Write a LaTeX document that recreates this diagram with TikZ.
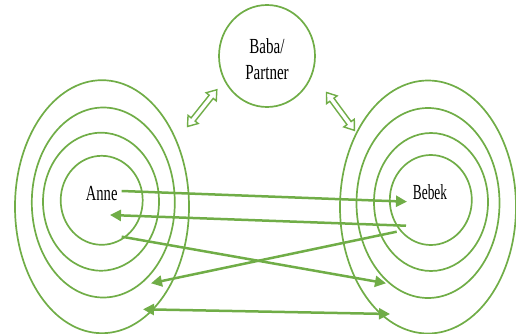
\documentclass[tikz,border=0pt]{standalone}
\usepackage{fontspec}
\setmainfont{Liberation Serif}
\usetikzlibrary{arrows.meta,shapes.geometric}
\definecolor{grn}{HTML}{70AD47}
\begin{document}
\begin{tikzpicture}[x=1pt,y=-1pt,
  ring/.style={draw=grn, line width=1.7pt, ellipse, inner sep=0pt},
  arr/.style={draw=grn, line width=2.5pt, -{Triangle[length=11pt,width=11pt]}},
  arrb/.style={draw=grn, line width=2.5pt, {Triangle[length=11pt,width=11pt]}-{Triangle[length=11pt,width=11pt]}},
  dbl/.style={draw=grn, line width=1.4pt, line join=miter, fill=white},
  lbl/.style={font=\fontsize{21.5}{26}\selectfont, inner sep=0pt}]
\useasboundingbox (0,0) rectangle (516,334);
% left rings
\node[ring, minimum width=82pt, minimum height=89pt] (L1) at (101.7,200.3) {};
\node[ring, minimum width=116pt, minimum height=138pt] (L2) at (101,201.7) {};
\node[ring, minimum width=143pt, minimum height=190pt] (L3) at (103.3,202.5) {};
\node[ring, minimum width=174pt, minimum height=253pt] (L4) at (102,206.7) {};
% right rings
\node[ring, minimum width=82pt, minimum height=90pt] (R1) at (430.8,200) {};
\node[ring, minimum width=114pt, minimum height=138pt] (R2) at (431,202) {};
\node[ring, minimum width=143pt, minimum height=190pt] (R3) at (428,203) {};
\node[ring, minimum width=176pt, minimum height=253pt] (R4) at (428,207) {};
% top circle
\node[ring, minimum width=96pt, minimum height=102pt] (P) at (267,56) {};
\node[lbl, align=center] (PT) at (267,59) {\scalebox{0.7}[1]{Baba/}\\\scalebox{0.7}[1]{Partner}};
\node[lbl] (A) at (101.7,193.5) {\scalebox{0.68}[1]{Anne}};
\node[lbl] (B) at (430,192.5) {\scalebox{0.62}[1]{Bebek}};
% arrow end points
\coordinate (a1) at (121.7,191);
\coordinate (b1) at (407,201.7);
\coordinate (b2) at (406,225.7);
\coordinate (a2) at (110,215);
\coordinate (a3) at (121.7,236.7);
\coordinate (b3) at (386,283.3);
\coordinate (b4) at (396.7,231.7);
\coordinate (a4) at (151,283.3);
\coordinate (a5) at (143,309.3);
\coordinate (b5) at (390,314);
\coordinate (d1) at (187.5,126.5);
\coordinate (d3) at (326.5,92.5);
\draw[arr] (a1) -- (b1);
\draw[arr] (b2) -- (a2);
\draw[arr] (a3) -- (b3);
\draw[arr] (b4) -- (a4);
\draw[arrb] (a5) -- (b5);
% hollow double arrows
\draw[dbl, shift={(d1)}, rotate=51.4, x=1pt, y=1pt]
  (0,0) -- (9,6.5) -- (9,2.6) -- (38,2.6) -- (38,6.5) -- (47,0) -- (38,-6.5) -- (38,-2.6) -- (9,-2.6) -- (9,-6.5) -- cycle;
\draw[dbl, shift={(d3)}, rotate=-53.6, x=1pt, y=1pt]
  (0,0) -- (9,6.5) -- (9,2.6) -- (38,2.6) -- (38,6.5) -- (47,0) -- (38,-6.5) -- (38,-2.6) -- (9,-2.6) -- (9,-6.5) -- cycle;
\end{tikzpicture}
\end{document}
